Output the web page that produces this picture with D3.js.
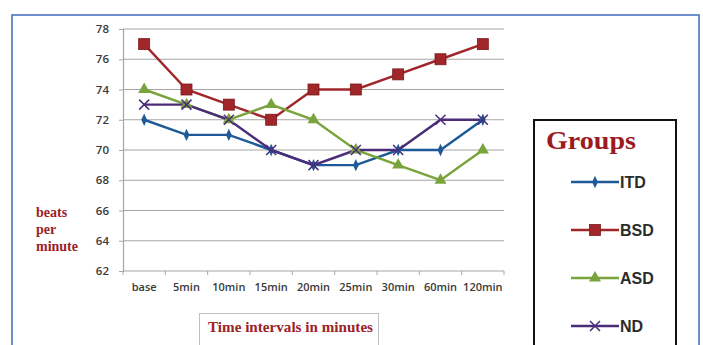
<!DOCTYPE html>
<html>
<head>
<meta charset="utf-8">
<script src="https://cdn.jsdelivr.net/npm/d3@7"></script>
<style>
  body { margin: 0; background: #fff; }
  svg { display: block; }
</style>
</head>
<body>
<div id="chart"></div>
<script>
const timeLabels = ["base", "5min", "10min", "15min", "20min", "25min", "30min", "60min", "120min"];
const yTicks = [62, 64, 66, 68, 70, 72, 74, 76, 78];
const itd = [72, 71, 71, 70, 69, 69, 70, 70, 72];
const bsd = [77, 74, 73, 72, 74, 74, 75, 76, 77];
const asd = [74, 73, 72, 73, 72, 70, 69, 68, 70];
const nd = [73, 73, 72, 70, 69, 70, 70, 72, 72];
const groupNames = ["ITD", "BSD", "ASD", "ND"];

const groupColors = { ITD: "#1f5a98", BSD: "#a1262a", ASD: "#79a33b", ND: "#4a2c79" };
const series = [
    { name: "ITD", values: itd },
    { name: "BSD", values: bsd },
    { name: "ASD", values: asd },
    { name: "ND", values: nd }
];

const width = 703, height = 345;
const plot = { left: 123, right: 504, top: 29, bottom: 271 };
const serif = "'Liberation Serif', 'DejaVu Serif', serif";
const labelColor = "#9b2226";

const svg = d3.select("#chart").append("svg")
    .attr("width", width)
    .attr("height", height);

// outer blue frame (runs off the bottom of the picture)
svg.append("rect")
    .attr("x", 12).attr("y", 15)
    .attr("width", 687).attr("height", 360)
    .attr("fill", "none")
    .attr("stroke", "#4a74c0")
    .attr("stroke-width", 1.6);

const x = d3.scaleBand()
    .domain(timeLabels)
    .range([plot.left, plot.right]);

const y = d3.scaleLinear()
    .domain([62, 78])
    .range([plot.bottom, plot.top]);

// horizontal gridlines
svg.append("g")
    .selectAll("line")
    .data(yTicks.slice(1))
    .enter().append("line")
    .attr("x1", plot.left).attr("x2", plot.right)
    .attr("y1", d => y(d)).attr("y2", d => y(d))
    .attr("stroke", "#a6a6a6")
    .attr("stroke-width", 1.2);

// y axis
const yAxis = svg.append("g")
    .attr("transform", `translate(${plot.left},0)`)
    .call(d3.axisLeft(y).tickValues(yTicks).tickSize(4).tickPadding(10));
yAxis.select(".domain").attr("stroke", "#a6a6a6").attr("stroke-width", 1.2);
yAxis.selectAll(".tick line").attr("stroke", "#a6a6a6");
yAxis.selectAll("text")
    .attr("fill", "#3a3a3a")
    .style("font-family", "'Open Sans', sans-serif")
    .style("font-size", "11.5px")
    .style("font-weight", "600");

// x axis: ticks at category boundaries
svg.append("line")
    .attr("x1", plot.left).attr("x2", plot.right)
    .attr("y1", plot.bottom).attr("y2", plot.bottom)
    .attr("stroke", "#a6a6a6")
    .attr("stroke-width", 1.2);
const boundaries = timeLabels.map(d => x(d)).concat([plot.right]);
svg.append("g")
    .selectAll("line")
    .data(boundaries)
    .enter().append("line")
    .attr("x1", d => d).attr("x2", d => d)
    .attr("y1", plot.bottom).attr("y2", plot.bottom + 4)
    .attr("stroke", "#a6a6a6");
svg.append("g")
    .selectAll("text")
    .data(timeLabels)
    .enter().append("text")
    .attr("x", d => x(d) + x.bandwidth() / 2)
    .attr("y", 291)
    .attr("text-anchor", "middle")
    .attr("fill", "#3a3a3a")
    .style("font-family", "'Open Sans', sans-serif")
    .style("font-size", "11px")
    .style("font-weight", "600")
    .text(d => d);

// markers
function drawMarker(g, name, size) {
    const c = groupColors[name];
    if (name === "ITD") {
        g.append("path").attr("d", d3.symbol(d3.symbolDiamond, size * 5)()).attr("fill", c)
            .attr("transform", "scale(0.8,1)");
    } else if (name === "BSD") {
        g.append("rect").attr("x", -size / 2 - 1).attr("y", -size / 2 - 1)
            .attr("width", size + 2).attr("height", size + 2)
            .attr("fill", c).attr("stroke", "#7a1a1c").attr("stroke-width", 0.8);
    } else if (name === "ASD") {
        g.append("path").attr("d", d3.symbol(d3.symbolTriangle, size * 7)()).attr("fill", c);
    } else {
        const h = size / 2 + 0.5;
        g.append("path").attr("d", `M${-h},${-h}L${h},${h}M${-h},${h}L${h},${-h}`)
            .attr("stroke", c).attr("stroke-width", 1.5).attr("fill", "none");
    }
}

const line = d3.line()
    .x((d, i) => x(timeLabels[i]) + x.bandwidth() / 2)
    .y(d => y(d));

series.forEach(s => {
    svg.append("path")
        .attr("d", line(s.values))
        .attr("fill", "none")
        .attr("stroke", groupColors[s.name])
        .attr("stroke-width", 2.4);
});
series.forEach(s => {
    s.values.forEach((v, i) => {
        const g = svg.append("g")
            .attr("transform", `translate(${x(timeLabels[i]) + x.bandwidth() / 2},${y(v)})`);
        drawMarker(g, s.name, 9);
    });
});

// y axis title
svg.append("text")
    .attr("x", 36).attr("y", 217)
    .attr("fill", labelColor)
    .style("font-family", serif)
    .style("font-size", "14px")
    .style("font-weight", "bold")
    .selectAll("tspan")
    .data(["beats", "per", "minute"])
    .enter().append("tspan")
    .attr("x", 36)
    .attr("dy", (d, i) => i === 0 ? 0 : 17)
    .text(d => d);

// x axis title box
svg.append("rect")
    .attr("x", 199.5).attr("y", 313.5)
    .attr("width", 179).attr("height", 50)
    .attr("fill", "#fff")
    .attr("stroke", "#bfbfbf");
svg.append("text")
    .attr("x", 208).attr("y", 332)
    .attr("fill", labelColor)
    .style("font-family", serif)
    .style("font-size", "15px")
    .style("font-weight", "bold")
    .attr("textLength", 165)
    .attr("lengthAdjust", "spacingAndGlyphs")
    .text("Time intervals in minutes");

// legend
const legend = svg.append("g");
legend.append("rect")
    .attr("x", 534).attr("y", 120)
    .attr("width", 142).attr("height", 240)
    .attr("fill", "#fff")
    .attr("stroke", "#111")
    .attr("stroke-width", 2);
legend.append("text")
    .attr("x", 546).attr("y", 149)
    .attr("fill", "#9b1c1f")
    .style("font-family", serif)
    .style("font-size", "25px")
    .style("font-weight", "bold")
    .attr("textLength", 90)
    .attr("lengthAdjust", "spacingAndGlyphs")
    .text("Groups");

const legendY = d3.scalePoint()
    .domain(groupNames)
    .range([182, 326]);

groupNames.forEach(name => {
    const g = legend.append("g").attr("transform", `translate(0,${legendY(name)})`);
    g.append("line")
        .attr("x1", 571).attr("x2", 619)
        .attr("stroke", groupColors[name])
        .attr("stroke-width", 2.4);
    const m = g.append("g").attr("transform", "translate(595,0)");
    drawMarker(m, name, 9);
    g.append("text")
        .attr("x", 620).attr("y", 6)
        .attr("fill", "#2b2b2b")
        .style("font-family", "'Liberation Sans', Arial, sans-serif")
        .style("font-size", "16px")
        .style("font-weight", "bold")
        .text(name);
});
</script>
</body>
</html>
